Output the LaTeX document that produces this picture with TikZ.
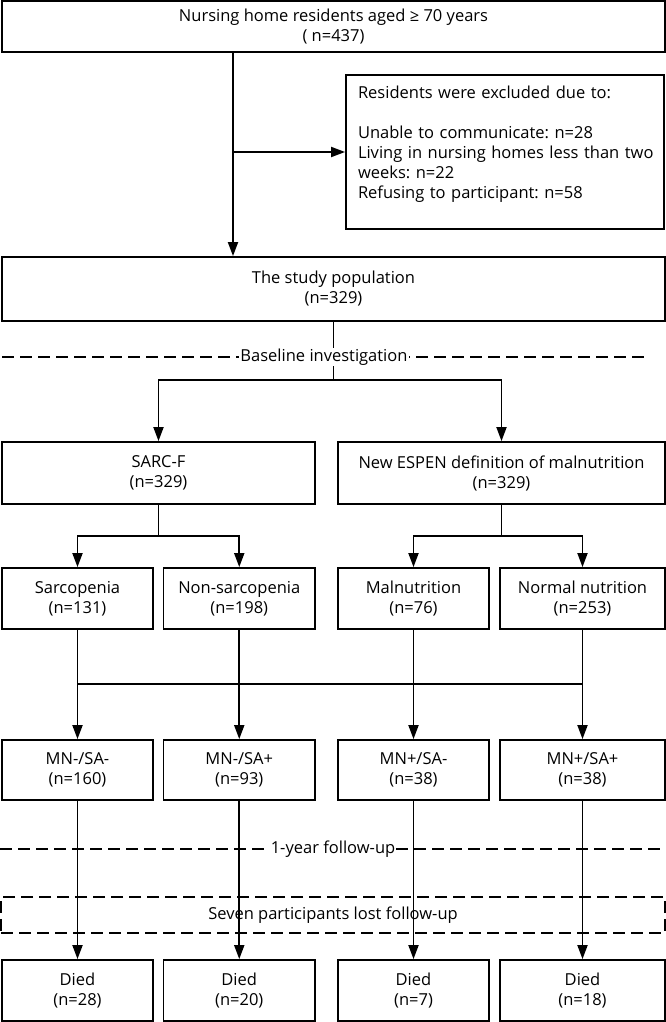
\documentclass[tikz,border=0pt]{standalone}
\usepackage{fontspec}
\setmainfont{Open Sans}
\usetikzlibrary{arrows.meta}
\begin{document}
\frenchspacing
\begin{tikzpicture}[x=1pt,y=-1pt,
  box/.style={draw,line width=1.8pt,inner sep=0pt,align=center,font=\fontsize{16.5}{20}\selectfont},
  arr/.style={line width=1.8pt,-{Triangle[length=14pt,width=10pt]}},
  ln/.style={line width=1.8pt},
  dashline/.style={line width=1.8pt,dash pattern=on 12pt off 6pt},
  lbl/.style={fill=white,inner sep=1pt,font=\fontsize{16.5}{20}\selectfont}]
\useasboundingbox (0,0) rectangle (666,1022);
% boxes
\node[box,minimum width=663pt,minimum height=51pt] (top) at (333.5,26.5) {Nursing home residents aged ≥ 70 years\\( n=437)};
\node[box,minimum width=318pt,minimum height=154pt,text width=294pt,align=left,inner xsep=12pt] (excl) at (505,152)
  {\mbox{Residents were excluded due to:}\\ \mbox{}\\ \mbox{Unable to communicate: n=28}\\ \mbox{Living in nursing homes less than two}\\ \mbox{weeks: n=22}\\ \mbox{Refusing to participant: n=58}\\ \mbox{}};
\node[box,minimum width=663pt,minimum height=64pt] (pop) at (333.5,289) {The study population\\(n=329)};
\node[box,minimum width=313pt,minimum height=62pt] (sarc) at (158.5,473) {SARC-F\\(n=329)};
\node[box,minimum width=327pt,minimum height=62pt] (espen) at (501.5,473) {New ESPEN definition of malnutrition\\(n=329)};
\node[box,minimum width=151pt,minimum height=61pt] (sa) at (77.5,598.5) {Sarcopenia\\(n=131)};
\node[box,minimum width=151.5pt,minimum height=61pt] (nsa) at (239.25,598.5) {Non-sarcopenia\\(n=198)};
\node[box,minimum width=151pt,minimum height=61pt] (mn) at (413.5,598.5) {Malnutrition\\(n=76)};
\node[box,minimum width=165pt,minimum height=61pt] (nn) at (582.5,598.5) {Normal nutrition\\(n=253)};
\node[box,minimum width=151pt,minimum height=60pt] (g1) at (77.5,770) {MN-/SA-\\(n=160)};
\node[box,minimum width=151.5pt,minimum height=60pt] (g2) at (239.25,770) {MN-/SA+\\(n=93)};
\node[box,minimum width=151pt,minimum height=60pt] (g3) at (413.5,770) {MN+/SA-\\(n=38)};
\node[box,minimum width=165pt,minimum height=60pt] (g4) at (582.5,770) {MN+/SA+\\(n=38)};
\node[box,minimum width=151pt,minimum height=61pt] (d1) at (77.5,990.5) {Died\\(n=28)};
\node[box,minimum width=151.5pt,minimum height=61pt] (d2) at (239.25,990.5) {Died\\(n=20)};
\node[box,minimum width=151pt,minimum height=61pt] (d3) at (413.5,990.5) {Died\\(n=7)};
\node[box,minimum width=165pt,minimum height=61pt] (d4) at (582.5,990.5) {Died\\(n=18)};
% lost follow-up box
\node[box,dashline,minimum width=664pt,minimum height=36pt] (lost) at (333,915) {Seven participants lost follow-up};
% connectors top
\draw[arr] (top.south -| 233,0) -- (pop.north -| 233,0);
\coordinate (ex) at (233,152);
\draw[arr] (ex) -- (excl.west);
% baseline
\draw[dashline] (2,357) coordinate (bl0) -- (648,357) coordinate (bl1);
\coordinate (b1) at (pop.south |- 0,380);
\draw[ln] (pop.south) -- (b1);
\draw[arr] (b1) -| (sarc.north);
\draw[arr] (b1) -| (espen.north);
\node[lbl] (base) at (324,357) {Baseline investigation};
% second split
\coordinate (s1) at (sarc.south |- 0,536);
\coordinate (s2) at (espen.south |- 0,536);
\draw[ln] (sarc.south) -- (s1);
\draw[ln] (espen.south) -- (s2);
\draw[arr] (s1) -| (sa.north);
\draw[arr] (s1) -| (nsa.north);
\draw[arr] (s2) -| (mn.north);
\draw[arr] (s2) -| (nn.north);
% cross
\draw[arr] (sa.south) -- (g1.north);
\draw[arr] (nsa.south) -- (g2.north);
\draw[arr] (mn.south) -- (g3.north);
\draw[arr] (nn.south) -- (g4.north);
\draw[ln] (sa.south |- 0,684) coordinate (c0) -- (nn.south |- 0,684) coordinate (c1);
% follow-up
\draw[dashline] (0,849) coordinate (f0) -- (666,849) coordinate (f1);
\draw[arr] (g1.south) -- (d1.north);
\draw[arr] (g2.south) -- (d2.north);
\draw[arr] (g3.south) -- (d3.north);
\draw[arr] (g4.south) -- (d4.north);
\node[lbl] (fu) at (333,849) {1-year follow-up};
\end{tikzpicture}
\end{document}
